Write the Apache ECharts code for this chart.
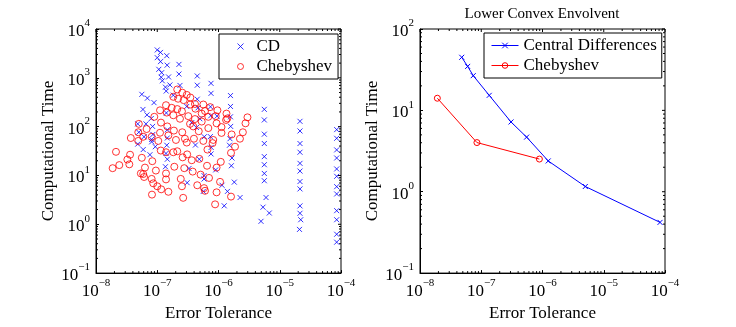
<!DOCTYPE html>
<html>
<head>
<meta charset="utf-8">
<script src="https://cdn.jsdelivr.net/npm/echarts@6/dist/echarts.min.js"></script>
<style>
  html, body { margin: 0; padding: 0; background: #fff; }
  #chart { width: 736px; height: 327px; }
</style>
</head>
<body>
<div id="chart"></div>
<script>
// left panel: every run, [error tolerance, computational time]
const cdPoints = [
  [1.0e-7, 3725], [1.13e-7, 3311], [1.43e-7, 2838], [1.0e-7, 2588], [1.13e-7, 2148],
  [1.45e-7, 1816], [2.26e-7, 1884], [1.06e-7, 1493], [1.18e-7, 1274], [1.21e-7, 869],
  [1.16e-7, 1028], [1.53e-7, 1042], [2.26e-7, 1194], [1.61e-7, 714], [2.35e-7, 698],
  [1.36e-7, 643], [1.40e-7, 536], [5.6e-8, 459], [6.9e-8, 383], [8.85e-8, 310],
  [1.83e-7, 440], [5.84e-8, 225], [6.8e-8, 174], [1.41e-7, 191], [4.5e-7, 1091],
  [4.5e-7, 705], [7.55e-7, 771], [7.55e-7, 481], [4.5e-7, 365], [1.57e-6, 433],
  [4.63e-7, 243], [7.4e-7, 255], [1.57e-6, 259], [9.46e-7, 164], [1.57e-6, 159],
  [3.03e-7, 259], [4.96e-7, 145], [7.47e-7, 167], [3.66e-7, 121], [4.36e-7, 96],
  [1.58e-6, 101], [4.8e-8, 114], [8.4e-8, 101], [5.0e-8, 76.7], [8.5e-8, 69.2],
  [1.46e-7, 86], [1.46e-7, 58.5], [8.0e-8, 147], [6.55e-8, 114], [6.08e-8, 62],
  [8.1e-8, 54.6], [8.1e-8, 48.8], [4.8e-8, 43.9], [9.3e-8, 38.8], [5.9e-8, 33.9],
  [1.43e-7, 41.6], [4.2e-7, 42], [5.86e-7, 62], [7.36e-7, 62.5], [7.6e-7, 37.5],
  [1.54e-6, 56.6], [1.51e-6, 41.6], [7.6e-8, 26.6], [1.39e-7, 28.2], [4.86e-7, 21.5],
  [7.55e-7, 27.6], [1.66e-6, 22.8], [1.46e-7, 21.5], [1.62e-6, 15.8], [1.36e-7, 15.1],
  [3.3e-7, 13.9], [9.0e-7, 13.0], [5.81e-7, 9.9], [5.81e-7, 8.45], [1.81e-6, 7.3],
  [3.08e-7, 7.1], [1.14e-6, 6.3], [1.40e-6, 4.72], [5.65e-7, 4.72], [2.25e-6, 3.53],
  [1.24e-6, 2.39],
  [5.6e-6, 226], [5.6e-6, 137], [5.6e-6, 70.1], [5.6e-6, 45.1], [5.6e-6, 24.3],
  [5.6e-6, 16.6], [5.6e-6, 11.0], [5.6e-6, 7.8], [5.97e-6, 3.53], [5.33e-6, 2.24],
  [6.75e-6, 1.70], [4.94e-6, 1.15],
  [2.14e-5, 128.5], [2.14e-5, 81.5], [2.14e-5, 45.1], [2.14e-5, 29.9], [2.14e-5, 17.7],
  [2.14e-5, 12.3], [2.14e-5, 7.5], [2.14e-5, 5.3], [2.14e-5, 2.38], [2.14e-5, 1.68],
  [2.2e-5, 1.24], [2.1e-5, 0.785],
  [8.5e-5, 86.9], [8.5e-5, 57.7], [8.5e-5, 33.4], [8.5e-5, 22.8], [8.5e-5, 13.6],
  [8.5e-5, 9.6], [8.5e-5, 5.9], [8.5e-5, 4.18], [8.5e-5, 1.90], [8.5e-5, 1.24],
  [8.5e-5, 0.625], [8.5e-5, 0.43]
];

const chebPoints = [
  [2.12e-7, 577], [2.56e-7, 497], [3.03e-7, 447], [3.47e-7, 395], [1.83e-7, 408],
  [2.19e-7, 373], [2.7e-7, 349], [1.39e-7, 275], [1.72e-7, 243], [2.12e-7, 229],
  [2.53e-7, 206], [3.47e-7, 284], [1.11e-7, 216], [1.43e-7, 194], [1.83e-7, 171],
  [2.35e-7, 145], [3.21e-7, 164], [4.13e-7, 143], [5.32e-7, 185], [5.65e-7, 284],
  [7.3e-7, 251], [6.02e-7, 209], [6.82e-7, 159], [9.3e-7, 117], [1.12e-6, 98],
  [1.35e-6, 185], [1.39e-6, 147], [2.97e-6, 155], [2.76e-6, 117], [2.5e-6, 76.7],
  [2.24e-6, 56.6], [1.86e-6, 38.8], [1.6e-6, 29], [1.6e-6, 3.69], [8.95e-8, 159],
  [1.15e-7, 121], [1.46e-7, 101], [1.87e-7, 83], [2.56e-7, 76.7], [3.43e-7, 114],
  [3.87e-7, 101], [4.76e-7, 80.4], [6.82e-7, 93.5], [5.0e-8, 114], [6.7e-8, 89.3],
  [4.9e-8, 76.7], [3.7e-8, 58.5], [5.9e-8, 62], [8.1e-8, 62], [1.11e-7, 75],
  [1.52e-7, 66], [2.02e-7, 53.4], [2.83e-7, 56.6], [3.97e-7, 56.6], [5.65e-7, 51],
  [8.2e-7, 53.4], [1.12e-6, 74.4], [1.64e-6, 69.2], [4.9e-8, 51], [1.04e-7, 51],
  [3.03e-7, 47.2], [6.6e-7, 33.9], [8.0e-7, 46], [2.12e-8, 30.5], [3.6e-8, 26.6],
  [5.6e-8, 23], [3.25e-8, 21.2], [3.5e-8, 16.9], [2.4e-8, 16.3], [1.87e-8, 14.1],
  [6.3e-8, 14.5], [5.9e-8, 10.7], [5.4e-8, 11.0], [6.1e-8, 9.3], [8.3e-8, 19.6],
  [1.39e-7, 29.9], [1.14e-7, 32.4], [1.83e-7, 29.9], [2.12e-7, 31.3], [2.6e-7, 23.5],
  [3.08e-7, 27], [3.66e-7, 20.5], [4.86e-7, 21.9], [6.5e-7, 15.8], [1.09e-6, 19],
  [9.3e-7, 14.5], [1.9e-7, 15.1], [2.76e-7, 14.1], [3.79e-7, 12], [5.1e-7, 10.4],
  [7.0e-7, 8.9], [9.5e-8, 12.6], [1.39e-7, 11], [1.39e-7, 8.3], [8.1e-8, 8.5],
  [8.6e-8, 6.9], [1.0e-7, 6.0], [1.16e-7, 5.2], [1.52e-7, 4.63], [8.2e-8, 4.05],
  [2.42e-7, 8.5], [2.53e-7, 6.0], [2.65e-7, 3.48], [4.5e-7, 6.3], [5.81e-7, 5.5],
  [6.02e-7, 4.85], [9.3e-7, 4.51], [1.06e-6, 7.4], [8.8e-7, 2.56], [4.13e-7, 291],
  [9.6e-7, 216], [4.2e-7, 233], [9.0e-7, 164], [5.32e-7, 127], [1.33e-6, 137]
];

// right panel: lower convex envelope
const envCdTol  = [4.8e-8, 6.0e-8, 7.4e-8, 1.35e-7, 3.06e-7, 5.5e-7, 1.24e-6, 5.0e-6, 8.3e-5];
const envCdTime = [44.9, 34.7, 26.7, 15.3, 7.2, 4.69, 2.39, 1.16, 0.42];
const envChebTol  = [1.92e-8, 8.5e-8, 8.9e-7];
const envChebTime = [14.1, 4.02, 2.52];

const FONT = 'Liberation Serif';
const BLUE = '#0000ff';
const RED = '#ff0000';
const CROSS = 'path://M0,0L10,10M10,0L0,10';

function expLabel(v) {
    const e = Math.round(Math.log10(v));
    return '{b|10}{s|' + (e < 0 ? '\u2212' + (-e) : e) + '}';
}

const labelRich = {
    b: { fontFamily: FONT, fontSize: 17, color: '#000', lineHeight: 22, verticalAlign: 'bottom' },
    s: { fontFamily: FONT, fontSize: 11, color: '#000', lineHeight: 11, verticalAlign: 'top' }
};

const nameStyle = { fontFamily: FONT, fontSize: 17, color: '#000' };
const legendText = { fontFamily: FONT, fontSize: 17, color: '#000' };
const blueMark = { color: 'none', borderColor: BLUE, borderWidth: 1 };
const redMark = { color: 'none', borderColor: RED, borderWidth: 1 };

function xAxisFor(idx) {
    return {
        gridIndex: idx, type: 'log', logBase: 10, min: 1e-8, max: 1e-4,
        name: 'Error Tolerance', nameLocation: 'middle', nameGap: 22, nameTextStyle: nameStyle,
        axisLine: { lineStyle: { color: '#000', width: 1 } },
        axisTick: { inside: true, length: 3, lineStyle: { color: '#000' } },
        axisLabel: { formatter: expLabel, rich: labelRich, margin: 5 },
        splitLine: { show: false }
    };
}

function yAxisFor(idx, max) {
    return {
        gridIndex: idx, type: 'log', logBase: 10, min: 0.1, max: max,
        name: 'Computational Time', nameLocation: 'middle', nameGap: idx === 0 ? 35 : 25,
        nameTextStyle: nameStyle,
        axisLine: { lineStyle: { color: '#000', width: 1 } },
        axisTick: { inside: true, length: 3, lineStyle: { color: '#000' } },
        axisLabel: { formatter: expLabel, rich: labelRich, margin: 6 },
        splitLine: { show: false }
    };
}

// MATLAB style ticks: minor ticks at 2..9 on every side, major ticks mirrored top/right
function tickSeries(idx, yExpMax) {
    return {
        type: 'custom', xAxisIndex: idx, yAxisIndex: idx, silent: true, z: 1,
        data: [[1e-6, 1]],
        renderItem: function (params, api) {
            const ch = [];
            const seg = (x1, y1, x2, y2) => ch.push({
                type: 'line',
                shape: { x1: x1, y1: y1, x2: x2, y2: y2 },
                style: { stroke: '#000', lineWidth: 1 }
            });
            const yLo = 0.1, yHi = Math.pow(10, yExpMax);
            const xLo = 1e-8, xHi = 1e-4;
            for (let k = -8; k <= -4; k++) {
                for (let m = 1; m <= 9; m++) {
                    if (k === -4 && m > 1) break;
                    const v = m * Math.pow(10, k);
                    const pb = api.coord([v, yLo]), pt = api.coord([v, yHi]);
                    if (m > 1) seg(pb[0], pb[1], pb[0], pb[1] - 2);
                    seg(pt[0], pt[1], pt[0], pt[1] + (m === 1 ? 3 : 2));
                }
            }
            for (let k = -1; k <= yExpMax; k++) {
                for (let m = 1; m <= 9; m++) {
                    if (k === yExpMax && m > 1) break;
                    const v = m * Math.pow(10, k);
                    const pl = api.coord([xLo, v]), pr = api.coord([xHi, v]);
                    if (m > 1) seg(pl[0], pl[1], pl[0] + 2, pl[1]);
                    seg(pr[0], pr[1], pr[0] - (m === 1 ? 3 : 2), pr[1]);
                }
            }
            return { type: 'group', children: ch };
        }
    };
}

const chart = echarts.init(document.getElementById('chart'), null, { renderer: 'canvas' });

const option = {
    animation: false,
    backgroundColor: '#fff',
    textStyle: { fontFamily: FONT },
    title: {
        text: 'Lower Convex Envolvent', left: 542, top: 7, padding: 0, textAlign: 'center',
        textStyle: { fontFamily: FONT, fontSize: 15, fontWeight: 'normal', color: '#000' }
    },
    grid: [
        { left: 96, top: 29, width: 245, height: 253, show: true, borderColor: '#000', borderWidth: 1, backgroundColor: 'transparent' },
        { left: 420, top: 29, width: 245, height: 253, show: true, borderColor: '#000', borderWidth: 1, backgroundColor: 'transparent' }
    ],
    xAxis: [xAxisFor(0), xAxisFor(1)],
    yAxis: [yAxisFor(0, 1e4), yAxisFor(1, 100)],
    legend: [
        {
            data: [
                { name: 'CD', icon: CROSS, itemStyle: blueMark },
                { name: 'Chebyshev', icon: 'circle', itemStyle: redMark }
            ],
            left: 219, top: 34, orient: 'vertical',
            backgroundColor: '#fff', borderColor: '#000', borderWidth: 1,
            padding: [4, 6, 4, 16], itemGap: 3, itemWidth: 6, itemHeight: 6,
            textStyle: Object.assign({ padding: [0, 0, 0, 8] }, legendText)
        },
        {
            data: [
                { name: 'Central Differences', itemStyle: blueMark, lineStyle: { color: BLUE, width: 1 } },
                { name: 'Chebyshev ', itemStyle: redMark, lineStyle: { color: RED, width: 1 } }
            ],
            left: 484, top: 33, orient: 'vertical',
            backgroundColor: '#fff', borderColor: '#000', borderWidth: 1,
            padding: [4, 5, 4, 7], itemGap: 3, itemWidth: 27, itemHeight: 7,
            textStyle: legendText
        }
    ],
    series: [
        {
            name: 'CD', type: 'scatter', xAxisIndex: 0, yAxisIndex: 0,
            symbol: CROSS, symbolSize: 5,
            itemStyle: blueMark,
            data: cdPoints
        },
        {
            name: 'Chebyshev', type: 'scatter', xAxisIndex: 0, yAxisIndex: 0,
            symbol: 'circle', symbolSize: 7,
            itemStyle: redMark,
            data: chebPoints
        },
        {
            name: 'Central Differences', type: 'line', xAxisIndex: 1, yAxisIndex: 1,
            symbol: CROSS, symbolSize: 5, showSymbol: true,
            itemStyle: blueMark,
            lineStyle: { color: BLUE, width: 1 },
            data: envCdTol.map((t, i) => [t, envCdTime[i]])
        },
        {
            name: 'Chebyshev ', type: 'line', xAxisIndex: 1, yAxisIndex: 1,
            symbol: 'circle', symbolSize: 6, showSymbol: true,
            itemStyle: redMark,
            lineStyle: { color: RED, width: 1 },
            data: envChebTol.map((t, i) => [t, envChebTime[i]])
        },
        tickSeries(0, 4),
        tickSeries(1, 2)
    ]
};

chart.setOption(option);
</script>
</body>
</html>
